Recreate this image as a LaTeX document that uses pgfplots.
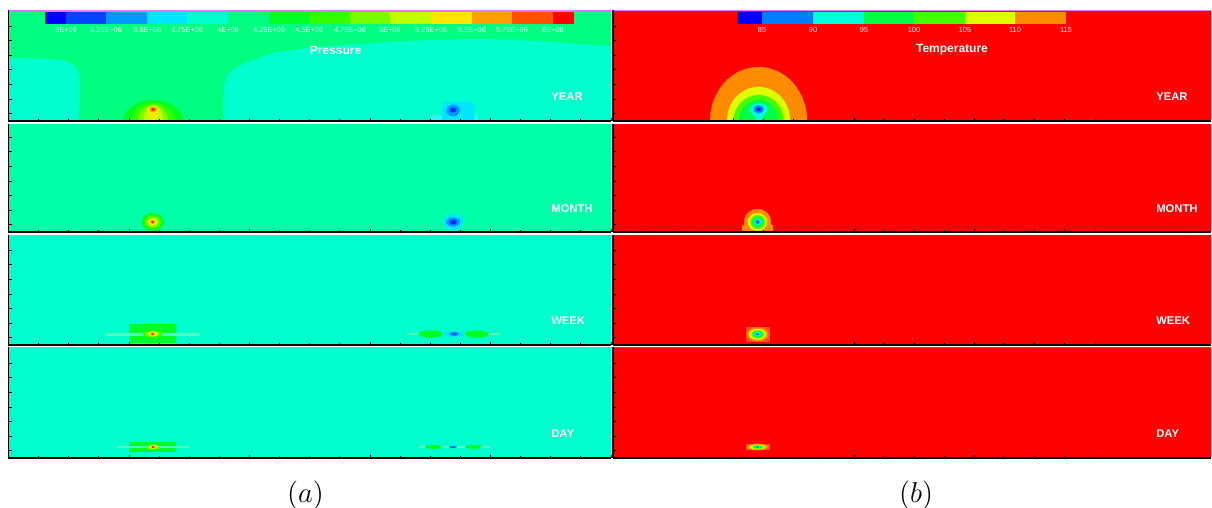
\documentclass[border=0pt]{standalone}
\usepackage{pgfplots}
\pgfplotsset{compat=1.18}
\usepackage{fontspec}
\setmainfont{Liberation Sans}
% pressure colours
\definecolor{p1}{HTML}{0000FF}\definecolor{p2}{HTML}{0044FF}\definecolor{p3}{HTML}{0099FF}
\definecolor{p4}{HTML}{00E6FF}\definecolor{p5}{HTML}{00FFCC}\definecolor{p6}{HTML}{00FF80}
\definecolor{p7}{HTML}{00FF22}\definecolor{p8}{HTML}{33FF00}\definecolor{p9}{HTML}{77FF00}
\definecolor{p10}{HTML}{C0FF00}\definecolor{p11}{HTML}{FFE600}\definecolor{p12}{HTML}{FFA000}
\definecolor{p13}{HTML}{FF5000}\definecolor{p14}{HTML}{FF0000}
\definecolor{pm}{HTML}{00FFA8}\definecolor{plc}{HTML}{30F4EC}\definecolor{strk}{HTML}{55FFBB}
% temperature colours
\definecolor{t1}{HTML}{0000FF}\definecolor{t2}{HTML}{0080FF}\definecolor{t3}{HTML}{00FFDD}
\definecolor{t4}{HTML}{00FF44}\definecolor{t5}{HTML}{44FF00}\definecolor{t6}{HTML}{DDFF00}
\definecolor{t7}{HTML}{FF8C00}\definecolor{t0}{HTML}{FF0000}\definecolor{t0l}{HTML}{FF4A2A}
\definecolor{mag}{HTML}{E67AE6}\definecolor{dor}{HTML}{B05000}
% helpers: colour, cx, cy, rx, ry  (image pixel units, y downwards)
\newcommand{\blob}[5]{\addplot[only marks, mark=*, color=#1, mark size={#5*0.5pt}, mark options={xscale={#4/#5}, draw=#1, fill=#1, line width=0.05pt}, forget plot] coordinates {(#2,-#3)};}
\newcommand{\rect}[5]{\addplot[fill=#1, draw=none, forget plot] coordinates {(#2,-#3) (#4,-#3) (#4,-#5) (#2,-#5)};}
\newcommand{\cbl}[2]{\node[font=\fontsize{3.7}{4}\selectfont, text=white, text opacity=0.9] at (axis cs:#1,-30) {#2};}
\newcommand{\ttl}[2]{\node[font=\fontsize{6}{7}\selectfont\bfseries, text=white] at (axis cs:#1,-50) {#2};}
\newcommand{\tag}[3]{\node[font=\fontsize{5.6}{6}\selectfont\bfseries, text=white, anchor=west, inner sep=0pt] at (axis cs:#1,-#2) {#3};}
\pgfplotsset{
  panel/.style={scale only axis, anchor=south west, clip marker paths=true, axis on top,
    axis x line*=bottom, axis y line*=left,
    axis line style={-, black, line width=0.6pt},
    every outer x axis line/.append style={-}, every outer y axis line/.append style={-},
    tick align=inside, xticklabels={}, yticklabels={},
    major tick length=1.6pt, minor tick length=1pt,
    tick style={black, line width=0.4pt}},
  lcol/.style={panel, xmin=8.5, xmax=611, width=301.25pt,
    xtick={8.5,129,249.5,370,490.5,611}, minor x tick num=3},
  rcol/.style={panel, xmin=613, xmax=1211, width=299pt,
    xtick={613,733.5,854,974.5,1095}, minor x tick num=3},
  row1/.style={ymin=-121, ymax=-10, height=55.5pt, ytick={-113.7,-99.1,-84.5,-69.9,-55.3,-40.7,-26.1}},
  row2/.style={ymin=-232, ymax=-124, height=54pt, ytick={-224.7,-210.1,-195.5,-180.9,-166.3,-151.7,-137.1}},
  row3/.style={ymin=-345, ymax=-235, height=55pt, ytick={-337.7,-323.1,-308.5,-293.9,-279.3,-264.7,-250.1}},
  row4/.style={ymin=-458, ymax=-347, height=55.5pt, ytick={-450.7,-436.1,-421.5,-406.9,-392.3,-377.7,-363.1}},
}
\begin{document}
\begin{tikzpicture}
\useasboundingbox (0,0) rectangle (606pt,-254pt);
%================ LEFT: PRESSURE ================
% YEAR
\begin{axis}[lcol, row1, at={(4.25pt,-60.5pt)}]
\rect{p6}{8.5}{11}{611}{121}
\addplot[draw=mag, line width=0.8pt, forget plot] coordinates {(8.5,-10.5) (611,-10.5)};
\addplot[fill=p5, draw=none, forget plot] coordinates {(8.5,-58) (40,-58.5) (62,-60) (72,-64) (78,-70) (80,-80) (80,-100) (78,-121) (8.5,-121)};
\addplot[fill=p5, draw=none, forget plot] coordinates {(224,-121) (223,-100) (224,-85) (227,-75) (233,-69) (242,-64) (256,-59) (273,-53) (300,-49) (330,-46) (352,-44.5) (390,-42) (430,-40) (469,-39) (510,-39.5) (547,-41.5) (580,-44) (611,-46) (611,-121)};
% high-pressure spot
\blob{p7}{153}{121}{30}{21}
\blob{p8}{153}{121}{22}{18}
\blob{p9}{153}{121}{15}{16.5}
\blob{p10}{153}{121}{10}{15.5}
\addplot[fill=p11, draw=none, forget plot] coordinates {(147,-110) (149,-107.5) (153,-106.5) (157,-107.5) (159,-110) (157,-114) (155,-118) (154,-121) (152,-121) (151,-118) (149,-114)};
\blob{p12}{153}{109.5}{3.5}{2.5}
\blob{p13}{153}{109.5}{2}{1.5}
\blob{p14}{153}{109.5}{1}{0.8}
% low-pressure spot
\rect{plc}{430}{115}{478}{121}
\addplot[fill=p4, draw=none, forget plot] coordinates {(442,-121) (442,-105) (444,-102.5) (448,-101.5) (468,-101.5) (472,-102.5) (474,-105) (474,-121)};
\blob{p3}{453}{110.5}{6.7}{5.8}
\blob{p2}{453}{110}{3.5}{2.5}
\blob{p1}{453}{110}{1.3}{1}
% colour bar
\rect{p1}{45}{12}{66}{24}\rect{p2}{66}{12}{106}{24}\rect{p3}{106}{12}{147}{24}
\rect{p4}{147}{12}{187}{24}\rect{p5}{187}{12}{228}{24}\rect{p6}{228}{12}{269}{24}
\rect{p7}{269}{12}{309}{24}\rect{p8}{309}{12}{350}{24}\rect{p9}{350}{12}{390}{24}
\rect{p10}{390}{12}{431}{24}\rect{p11}{431}{12}{472}{24}\rect{p12}{472}{12}{512}{24}
\rect{p13}{512}{12}{553}{24}\rect{p14}{553}{12}{574}{24}
\cbl{66}{3E+06}\cbl{106}{3.25E+06}\cbl{147}{3.5E+06}\cbl{187}{3.75E+06}
\cbl{228}{4E+06}\cbl{269}{4.25E+06}\cbl{309}{4.5E+06}\cbl{350}{4.75E+06}
\cbl{390}{5E+06}\cbl{431}{5.25E+06}\cbl{472}{5.5E+06}\cbl{512}{5.75E+06}\cbl{553}{6E+06}
\ttl{335.5}{Pressure}
\tag{551}{96.7}{YEAR}
\end{axis}
% MONTH
\begin{axis}[lcol, row2, at={(4.25pt,-116pt)}]
\rect{pm}{8.5}{124}{611}{232}
\blob{p7}{152.5}{222}{11}{9}
\blob{p8}{152.5}{222}{8.5}{7}
\blob{p9}{152.5}{222}{6.5}{5.5}
\blob{p10}{152.5}{222}{5}{4}
\blob{p11}{152.5}{222}{3.5}{2.8}
\blob{p12}{152.5}{222}{2.3}{1.8}
\blob{p14}{152.5}{222}{1.2}{0.9}
\blob{p4}{453}{222}{10.5}{8}
\blob{p3}{453}{222}{7}{4.5}
\blob{p2}{453}{222}{4}{2.5}
\blob{p1}{453}{222}{1.5}{1}
\tag{551}{209}{MONTH}
\end{axis}
% WEEK
\begin{axis}[lcol, row3, at={(4.25pt,-172.5pt)}]
\rect{p5}{8.5}{235}{611}{345}
\rect{p7}{129}{324}{176}{343}
\rect{strk}{105}{332.5}{200}{335.5}
\blob{p8}{152.5}{334}{10}{3.5}
\blob{p9}{152.5}{334}{7}{2.8}
\blob{p10}{152.5}{334}{5}{2.2}
\blob{p11}{152.5}{334}{3.5}{1.8}
\blob{p13}{152.5}{334}{1.8}{1.1}
\blob{p14}{152.5}{334}{0.9}{0.6}
\rect{strk}{407}{332.8}{500}{335}
\blob{p7}{430.5}{334}{12}{3.5}
\blob{p7}{476.5}{334}{12}{3.5}
\blob{p4}{454}{334}{10}{3}
\blob{p3}{454}{334}{5}{1.8}
\blob{p2}{454}{334}{2.5}{1}
\tag{551}{321}{WEEK}
\end{axis}
% DAY
\begin{axis}[lcol, row4, at={(4.25pt,-229pt)}]
\rect{p5}{8.5}{347}{611}{458}
\rect{p7}{129}{442}{176}{452}
\rect{strk}{117}{446}{189}{448.3}
\blob{p9}{153}{447}{7}{2.2}
\blob{p11}{153}{447}{4}{1.6}
\blob{p14}{153}{447}{1.5}{0.8}
\rect{strk}{418}{446}{490}{448.3}
\blob{p7}{433}{447}{8}{1.8}
\blob{p7}{473}{447}{8}{1.8}
\blob{p3}{453}{447}{4}{1.2}
\blob{p2}{453}{447}{1.8}{0.7}
\tag{551}{434}{DAY}
\end{axis}
%================ RIGHT: TEMPERATURE ================
% YEAR
\begin{axis}[rcol, row1, at={(306.5pt,-60.5pt)}]
\rect{t0}{613}{11}{1211}{121}
\addplot[draw=mag, line width=0.8pt, forget plot] coordinates {(613,-10.5) (1211,-10.5)};
\blob{t7}{758.5}{121}{48.5}{54}
\blob{t6}{758.5}{121}{31.5}{34}
\blob{t5}{758.5}{121}{25}{26}
\blob{t4}{758.5}{121}{19.5}{21}
\addplot[fill=t3, draw=none, forget plot] coordinates {(749,-110) (751,-105.5) (758.5,-103) (766,-105.5) (768,-110) (765,-114) (762,-118) (761,-121) (756,-121) (755,-118) (752,-114)};
\blob{t2}{758.5}{109.3}{5}{4}
\blob{t1}{758.5}{109.3}{2}{1.5}
% colour bar
\rect{t1}{737}{12}{762}{24}\rect{t2}{762}{12}{813}{24}\rect{t3}{813}{12}{864}{24}
\rect{t4}{864}{12}{914}{24}\rect{t5}{914}{12}{965}{24}\rect{t6}{965}{12}{1015}{24}
\rect{t7}{1015}{12}{1066}{24}
\cbl{762}{85}\cbl{813}{90}\cbl{864}{95}\cbl{914}{100}\cbl{965}{105}\cbl{1015}{110}\cbl{1066}{115}
\ttl{952}{Temperature}
\tag{1156}{96.7}{YEAR}
\end{axis}
% MONTH
\begin{axis}[rcol, row2, at={(306.5pt,-116pt)}]
\rect{t0}{613}{124}{1211}{232}
\blob{t7}{757.5}{221.5}{13.5}{12.5}
\addplot[fill=t7, draw=none, forget plot] coordinates {(742,-232) (742,-226) (745,-223) (770,-223) (773,-226) (773,-232)};
\blob{t6}{757.5}{222}{9.5}{8.8}
\blob{t5}{757.5}{222}{7.2}{6.8}
\blob{t4}{757.5}{222}{5.5}{5.2}
\blob{t3}{757.5}{222}{3.6}{3.6}
\blob{t2}{757.5}{222}{2}{1.8}
\blob{t1}{757.5}{222}{0.9}{0.8}
\tag{1156}{209}{MONTH}
\end{axis}
% WEEK
\begin{axis}[rcol, row3, at={(306.5pt,-172.5pt)}]
\rect{t0}{613}{235}{1211}{345}
\rect{t0l}{746}{327}{770}{342}
\blob{t7}{757.5}{334.3}{11}{7}
\blob{t6}{757.5}{334.3}{8.5}{5.3}
\blob{t5}{757.5}{334.3}{6.3}{3.9}
\blob{t4}{757.5}{334.3}{4.8}{3}
\blob{t3}{757.5}{334.3}{3.3}{2}
\blob{t2}{757.5}{334.3}{1.8}{1.1}
\blob{t1}{757.5}{334.3}{0.8}{0.5}
\tag{1156}{321}{WEEK}
\end{axis}
% DAY
\begin{axis}[rcol, row4, at={(306.5pt,-229pt)}]
\rect{t0}{613}{347}{1211}{458}
\addplot[draw=dor, line width=0.6pt, forget plot] coordinates {(613,-347.6) (1211,-347.6)};
\rect{t0l}{746}{443.8}{770}{450.3}
\blob{t7}{757.5}{447}{11}{3.2}
\blob{t6}{757.5}{447}{8}{2.4}
\blob{t5}{757.5}{447}{5.5}{1.7}
\blob{t4}{757.5}{447}{4}{1.2}
\blob{t3}{757.5}{447}{2.5}{0.8}
\blob{t1}{757.5}{447}{1}{0.4}
\tag{1156}{434}{DAY}
\end{axis}
% sub-figure labels
\node[font=\fontsize{14}{16}\selectfont] at (152.75pt,-247.5pt) {$(a)$};
\node[font=\fontsize{14}{16}\selectfont] at (458pt,-247.5pt) {$(b)$};
\end{tikzpicture}
\end{document}
